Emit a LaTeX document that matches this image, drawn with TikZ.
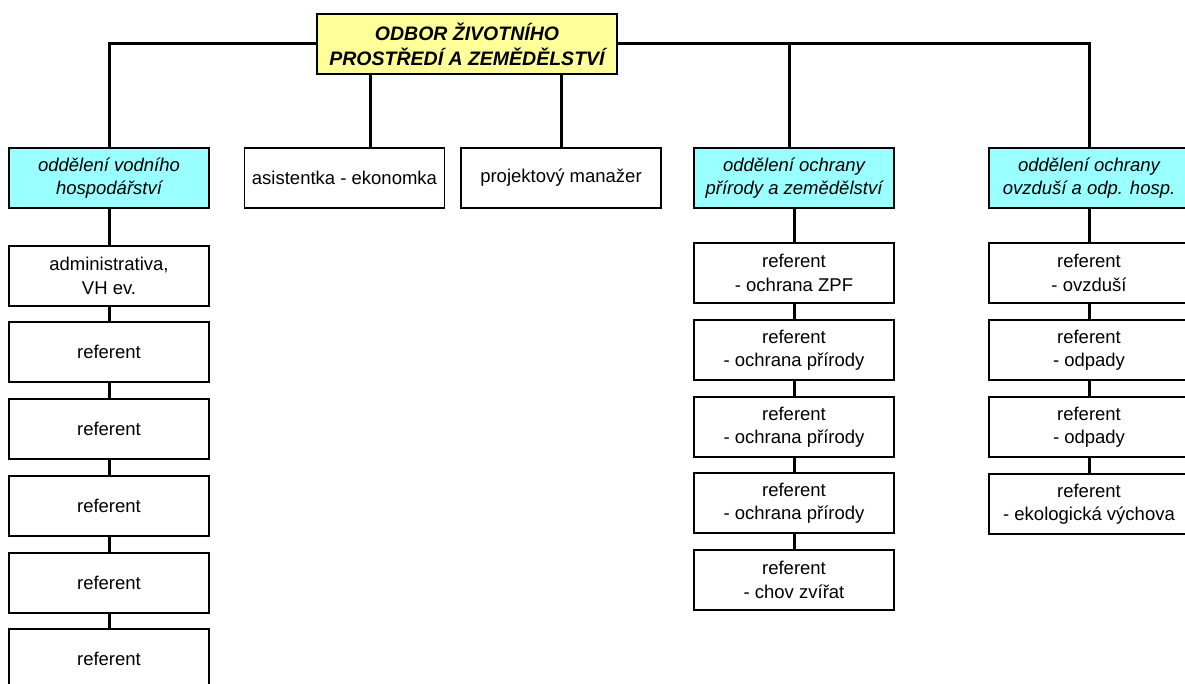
\documentclass[tikz,border=0pt]{standalone}
\usepackage{fontspec}
\setmainfont{Liberation Sans}
\definecolor{titlefill}{HTML}{FFFF99}
\definecolor{deptfill}{HTML}{99FFFF}
\tikzset{
  box/.style={draw=black, line width=1.2pt, fill=white, minimum width=200pt, minimum height=60pt, inner sep=0pt, align=center, font=\fontsize{18.5}{23.5}\selectfont},
  dept/.style={box, fill=deptfill, font=\fontsize{18.5}{23.5}\selectfont\itshape},
  titlebox/.style={draw=black, line width=1.2pt, fill=titlefill, minimum width=300pt, minimum height=60pt, inner sep=0pt, align=center, font=\fontsize{19.5}{25}\selectfont\bfseries\itshape},
  link/.style={draw=black, line width=3pt}
}
\begin{document}
\begin{tikzpicture}[x=1pt,y=-1pt]
\useasboundingbox (0,0) rectangle (1185,684);
% departments
\node[dept] (d1) at (109,178) {oddělení vodního\\hospodářství};
\node[box] (asist) at (344.5,178) {asistentka - ekonomka};
\node[box] (proj) at (561,178) {projektový manažer};
\node[dept] (d4) at (794,178) {oddělení ochrany\\přírody a zemědělství};
\node[dept] (d5) at (1089,178) {oddělení ochrany\\ovzduší a odp. hosp.};
% left column
\node[box] (a1) at (109,276) {administrativa,\\VH ev.};
\node[box] (a2) at (109,352) {referent};
\node[box] (a3) at (109,429) {referent};
\node[box] (a4) at (109,506) {referent};
\node[box] (a5) at (109,583) {referent};
\node[box] (a6) at (109,659) {referent};
% middle column
\node[box] (b1) at (794,273) {referent\\- ochrana ZPF};
\node[box] (b2) at (794,350) {referent\\- ochrana přírody};
\node[box] (b3) at (794,427) {referent\\- ochrana přírody};
\node[box] (b4) at (794,503) {referent\\- ochrana přírody};
\node[box] (b5) at (794,580) {referent\\- chov zvířat};
% right column
\node[box] (c1) at (1089,273) {referent\\- ovzduší};
\node[box] (c2) at (1089,350) {referent\\- odpady};
\node[box] (c3) at (1089,427) {referent\\- odpady};
\node[box] (c4) at (1089,504) {referent\\- ekologická výchova};
% title
\node[titlebox] (top) at (467,44) {ODBOR ŽIVOTNÍHO\\PROSTŘEDÍ A ZEMĚDĚLSTVÍ};
\coordinate (tl) at ([xshift=-97pt]top.south);
\coordinate (tr) at ([xshift=94pt]top.south);
\coordinate (d4top) at ([xshift=-5pt]d4.north);
% connectors
\draw[link] (top.west) -| (d1.north);
\draw[link] (top.east) -| (d5.north);
\draw[link] (top.east) -| (d4top);
\draw[link] (tl) -- (tl |- asist.north);
\draw[link] (tr) -- (tr |- proj.north);
\draw[link] (d1.south) -- (a1.north);
\draw[link] (a1.south) -- (a2.north);
\draw[link] (a2.south) -- (a3.north);
\draw[link] (a3.south) -- (a4.north);
\draw[link] (a4.south) -- (a5.north);
\draw[link] (a5.south) -- (a6.north);
\draw[link] (d4.south) -- (b1.north);
\draw[link] (b1.south) -- (b2.north);
\draw[link] (b2.south) -- (b3.north);
\draw[link] (b3.south) -- (b4.north);
\draw[link] (b4.south) -- (b5.north);
\draw[link] (d5.south) -- (c1.north);
\draw[link] (c1.south) -- (c2.north);
\draw[link] (c2.south) -- (c3.north);
\draw[link] (c3.south) -- (c4.north);
\end{tikzpicture}
\end{document}
